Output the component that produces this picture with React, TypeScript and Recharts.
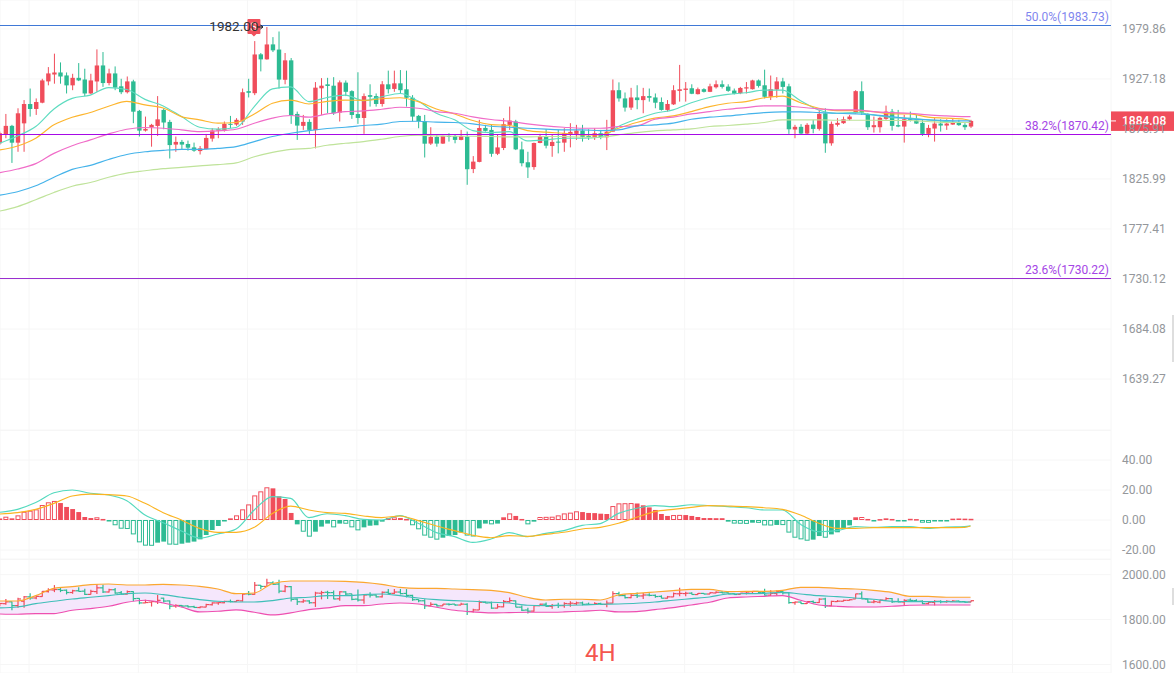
import React from 'react';
import {
  Area,
  Bar,
  CartesianGrid,
  ComposedChart,
  Line,
  ReferenceDot,
  ReferenceLine,
  XAxis,
  YAxis,
} from 'recharts';

const opens = [
  1861.5,1870.9,1879.1,1862.2,1881.8,1901.4,1896.3,1902.7,1924.7,1931.9,
  1934,1930.9,1920.6,1928.4,1926.7,1912.2,1924.7,1941.4,1923,1933,
  1919.6,1913.5,1924.7,1894.3,1874.3,1877.7,1879.1,1895.3,1883.1,1860.2,
  1862.9,1860.8,1857.4,1853.7,1855.7,1866.2,1874.3,1875,1881.1,1880.4,
  1883.5,1914.6,1912.5,1953,1947.7,1963.5,1958.2,1926.4,1946.7,1891.2,
  1879.1,1883.1,1875,1917.6,1921.7,1920.3,1892.6,1923.4,1914.6,1891.2,
  1887.2,1910.5,1909.5,1901.4,1921.7,1916.9,1922.7,1916.6,1907.8,1889.2,
  1883.8,1861.2,1867.9,1861.2,1868.9,1868.9,1864.9,1868.3,1835.8,1842.9,
  1877,1875,1851,1856.8,1880.1,1883.5,1855.4,1842.6,1837.8,1861.8,
  1868.6,1858.8,1863.2,1862.2,1870.3,1871,1874.3,1868.9,1867.6,1871.6,
  1867.6,1873.3,1915.6,1907.1,1897.7,1908.1,1905.4,1909.5,1908.1,1903.4,
  1895.3,1901,1914.9,1915.9,1917.6,1911.5,1916.6,1913.9,1918.6,1921.7,
  1919.3,1915.2,1912.5,1917.3,1916.6,1925.7,1920.7,1908.8,1916.3,1924.7,
  1919.6,1875.4,1878.1,1871.3,1880.4,1876,1891.9,1861.5,1880.1,1881.8,
  1885.8,1891.9,1914.6,1891.2,1877.7,1877.7,1886.2,1893.6,1879.8,1878.4,
  1886.9,1884.5,1882.1,1871,1876.4,1881.4,1879.4,1880.4,1882.5,1880.1,
  1878.4,
];
const highs = [
  1873.3,1891.2,1880.1,1897,1905.4,1917.3,1907.1,1927.4,1939.6,1953.7,
  1944.5,1934,1932.6,1943.8,1937.9,1932.6,1958.2,1955.4,1937.9,1940.3,
  1927.4,1929.8,1926.4,1895.3,1888.5,1881.1,1909.5,1897,1885.2,1868.3,
  1864.9,1864.2,1862.2,1858.8,1870.9,1876.7,1877.7,1883.5,1889.2,1886.9,
  1917.3,1927.4,1967,1954.4,1982,1971.2,1977.2,1954.4,1949.1,1893.6,
  1890.2,1885.8,1924,1928.1,1928.4,1929.1,1925.7,1925.7,1915.5,1934.2,
  1912.2,1921.7,1912.2,1925,1935.9,1935.9,1936.5,1935.9,1910.5,1890.2,
  1890.2,1877.7,1870,1869.2,1871.6,1870,1875,1873.3,1848.7,1885.2,
  1880.1,1880.1,1870,1886.9,1898.7,1885.2,1863.2,1853,1862.2,1871,
  1875.7,1870,1875,1876.7,1881.8,1880.1,1880.1,1875.7,1876.7,1875,
  1885.2,1926.7,1923.7,1913.2,1918,1920.7,1918,1917.3,1912.2,1908.1,
  1905.4,1920.7,1941.9,1924,1921.7,1918.3,1917.6,1922.3,1925.7,1925.7,
  1921.7,1917.3,1919,1924,1926.4,1926.7,1936.9,1930.8,1929.1,1928.4,
  1922.3,1880.1,1880.8,1881.8,1885.2,1895.3,1897,1883.5,1886.9,1888.5,
  1890.2,1915.6,1924.7,1891.9,1888.5,1888.5,1899.7,1896.3,1895.3,1890.2,
  1893.6,1890.2,1885.8,1880.1,1886.9,1885.8,1885.8,1886.9,1885.2,1881.8,
  1885.2,
];
const lows = [
  1859.8,1866.6,1841.9,1853,1853,1888.5,1890.2,1902.1,1920.6,1922.3,
  1922.3,1912.2,1915.6,1925,1909.5,1911.5,1913.9,1919,1920.6,1915.6,
  1911.5,1912.2,1881.8,1868.3,1873.3,1858.1,1868.9,1875.7,1846.3,1853,
  1855.4,1854.1,1853,1850.3,1855.4,1863.2,1866.6,1873.3,1876.7,1879.1,
  1880.1,1908.1,1910.5,1935.1,1947.4,1955.4,1917.3,1921.7,1881.1,1864.9,
  1875,1871,1856.4,1890.2,1891.9,1890.2,1883.5,1909.5,1886.2,1881.1,
  1871,1898.7,1898.7,1898.7,1912.2,1913.9,1912.2,1898.7,1883.5,1876.7,
  1847.3,1859.8,1858.1,1860.8,1863.2,1861.5,1864.5,1820.3,1831.8,1842.5,
  1873.3,1848,1849.7,1854.7,1875,1854.7,1838.5,1827,1835.1,1861.5,
  1856.4,1848,1851.4,1853,1857.4,1864.9,1863.2,1864.9,1864.9,1865.6,
  1854.7,1873,1903.8,1893.6,1895.3,1896,1891.9,1903.8,1897,1894.6,
  1893.6,1900.4,1903.8,1903.8,1911.5,1911.2,1913.2,1913.6,1917.3,1917.3,
  1913.9,1911.2,1911.5,1912.2,1916.3,1918.3,1907.1,1905.4,1907.8,1912.2,
  1871,1866.6,1870,1870,1871.6,1874.3,1852,1859.1,1878.4,1881.1,
  1884.5,1891.5,1890.2,1875,1872.3,1872.3,1885.2,1874.3,1877.7,1862.2,
  1883.5,1881.1,1868.9,1867.6,1863.2,1873.3,1875,1880.1,1879.1,1875,
  1877,
];
const closes = [
  1871.6,1879.1,1862.2,1891.9,1901.4,1896.3,1903.4,1925.7,1933,1934,
  1929.8,1920.6,1928.4,1925.7,1912.2,1925.7,1941.4,1923,1933,1918.3,
  1913.5,1924.7,1893.6,1874.3,1876,1880.1,1885.8,1882.5,1859.8,1862.9,
  1860.2,1857.1,1854.1,1856.4,1866.9,1874.3,1875.7,1881.1,1880.1,1885.2,
  1913.5,1912.9,1953,1947.7,1963.5,1957.2,1926.7,1946.7,1890.2,1879.4,
  1883.1,1875,1918.3,1920.3,1920,1891.9,1923.7,1913.9,1890.2,1887.2,
  1909.5,1908.8,1901.4,1921.7,1916.6,1922.7,1915.6,1907.8,1888.5,1883.8,
  1861.2,1867.9,1861.2,1868.9,1867.9,1864.9,1868.9,1835.8,1843.2,1877,
  1874,1851,1857.4,1880.8,1884.5,1855.4,1841.6,1837.5,1861.8,1868.6,
  1859.1,1862.9,1862.2,1871.6,1873,1874.3,1867.9,1867.6,1871.6,1867.9,
  1873.3,1915.6,1907.1,1897.7,1908.1,1905.4,1909.5,1907.8,1902.7,1895.3,
  1901.4,1915.6,1916.6,1917.3,1911.9,1916.6,1913.9,1919.6,1921.7,1919,
  1914.9,1911.9,1917.9,1918.6,1925.7,1920,1908.8,1916.6,1924.7,1919,
  1875.7,1878.1,1871.3,1880.1,1876,1891.2,1861.5,1881.1,1882.1,1885.8,
  1888.5,1914.6,1892.6,1877.7,1879.8,1887.2,1893.6,1879.1,1878.4,1885.8,
  1885.2,1881.4,1871,1877,1881.4,1879.4,1881.4,1882.5,1879.8,1877.7,
  1884.08,
];
const macdHist = [
  1,2.2,1.1,3.1,5.5,6.2,7.1,10,11.8,12.7,
  11.3,8.7,7.3,5.3,2,1.3,1.8,0.7,-0.7,-3.5,
  -5.8,-6,-9.6,-14.9,-17.1,-17.2,-15.1,-14.4,-16.4,-16.5,
  -15.8,-15.1,-14.4,-12.9,-10,-6.7,-4,-0.9,1.1,3.1,
  7.1,10.4,16.4,19.1,21.8,21.1,15.8,14,4.7,-2.9,
  -7.8,-11.1,-7.8,-4.4,-2.4,-4.9,-2.4,-2.5,-4.9,-6.9,
  -4.9,-3.8,-3.5,-1.1,1.3,1.8,1.3,0.7,-3.5,-6.2,
  -10.4,-11.8,-13.1,-11.8,-10.7,-10,-8.4,-10.4,-11,-5.6,
  -2.4,-2.9,-2.4,1.8,4.4,2.7,0.7,-2.9,-1.1,2,
  2.1,2.2,3.1,4.4,4.9,5.8,5.3,4.7,4.6,4.2,
  4,9.3,11.1,11.2,11.3,11,9.8,8.4,6.7,4,
  2.7,3.3,3.4,3.3,2.7,2,1.3,1.3,1.2,1.2,
  -1.1,-2.4,-2.5,-2.6,-1.8,-1.9,-3.6,-3.7,-3.3,-3.4,
  -8.4,-11.8,-12.9,-13.8,-13.1,-10.7,-11.8,-9.6,-8.2,-5.6,
  -3.6,1.8,2,0.7,-0.6,0.6,1.1,0.7,-0.5,-0.6,
  0.8,0.6,-1.8,-1.9,-0.7,-0.7,-0.9,0.9,1,0.9,
  0.8,
];

// candle numbers the indicator lines were read at
const lineKs = [
  -1,2,5,8,11,14,17,20,23,26,29,32,35,38,41,44,47,50,53,56,59,62,65,68,71,74,77,80,
  83,86,89,92,95,98,101,104,107,110,113,116,119,122,125,128,131,134,137,140,143,146,149,152,155,158,159,
];
const ma5 = [
  1861.5,1868.9,1878.4,1896.3,1907.1,1910.5,1918.3,1916.3,1906.1,1899.4,1888.5,1877.7,1875.7,1877.4,1898.7,1916.9,1919,
  1903.8,1908.1,1910.5,1904.8,1908.8,1912.2,1904.4,1891.9,1885.2,1874.3,1872.3,1873.3,1863.9,1864.9,1866.6,1866.6,1867.6,1878.4,
  1885.8,1891.9,1895.3,1902.7,1908.1,1911.2,1912.9,1915.6,1915.6,1904.8,1895.3,1891.9,1892.6,1890.2,1887.5,1886.9,1885.2,1883.5,1882.5,1882.5,
];
const ma10 = [
  1854.7,1858.8,1866.6,1880.1,1887.9,1892.6,1899,1904.1,1900.4,1897.3,1888.5,1885.2,1881.8,1882.5,1891.2,1902.1,1905.4,
  1901.4,1904.1,1905.4,1905.1,1906.8,1907.8,1903.8,1896.3,1891.2,1884.5,1880.4,1879.4,1874.3,1872.7,1871.6,1870,1870,1876.7,
  1882.5,1886.9,1889.2,1893.6,1898.7,1902.1,1903.8,1907.8,1909.5,1902.7,1897,1894.6,1894.6,1893.6,1891.2,1891.2,1887.9,1886.9,1885.8,1884.5,
];
const ma20 = [
  1832.1,1835.8,1841.2,1851.4,1859.1,1864.9,1871,1875.7,1877.4,1876.7,1875,1873.3,1874,1875.7,1881.8,1886.9,1889.6,
  1887.9,1891.2,1893.6,1894.3,1896,1898,1897,1893.6,1891.9,1888.2,1885.5,1883.8,1881.1,1879.1,1877.7,1876.7,1876.7,1878.4,
  1879.1,1885.8,1887.9,1891.2,1893.6,1896,1897.7,1899.4,1899.4,1898,1896.3,1895.3,1895.3,1893.6,1892.6,1891.9,1890.2,1889.2,1888.5,1888.5,
];
const ma40 = [
  1810.1,1813.5,1819.3,1827.7,1835.5,1839.5,1845.3,1850.3,1853,1854.4,1855.4,1855.4,1856.4,1858.1,1863.2,1868.3,1871.6,
  1874.3,1876.4,1877.7,1879.4,1880.8,1883.5,1883.8,1882.8,1882.5,1881.1,1878.7,1877.7,1876.7,1875.7,1875,1875,1874.3,1875,
  1879.1,1880.1,1881.8,1885.8,1887.9,1889.2,1890.9,1892.6,1893.3,1893.3,1892.6,1891.9,1891.2,1890.2,1888.5,1886.2,1885.2,1884.5,1884.1,1884.1,
];
const ma60 = [
  1794.6,1799,1805.7,1812.8,1818.9,1822.6,1827.7,1831.8,1834.1,1836.2,1837.5,1838.9,1840.2,1841.9,1848,1852.4,1855.4,
  1856.4,1859.5,1861.5,1863.2,1865.6,1868.3,1869.6,1868.9,1868.6,1868.6,1868.3,1867.9,1867.9,1868.3,1868.3,1867.6,1867.6,1870,
  1872.3,1874,1875,1876,1878.4,1879.4,1880.8,1882.5,1885.2,1885.2,1885.2,1884.8,1884.8,1884.8,1884.5,1884.5,1883.5,1882.5,1882.5,1882.5,
];
const dif = [
  5.1,7.1,11.6,18.2,20,17.8,16.7,12.9,3.3,-1.8,-7.3,-12,-9.3,-6,6.7,15.6,14.4,1.6,4.2,2.9,0.4,0,
  2.9,-2.2,-8.4,-11.1,-14.9,-12.7,-8.4,-11.1,-8.9,-7.1,-3.6,-2.4,4.4,7.8,9.6,8.9,10.2,
  9.6,8.9,8.2,6.7,6.7,-2.9,-7.8,-7.1,-4.4,-4.9,-4.4,-4.4,-5.6,-4.7,-4.4,-3.8,
];
const dea = [
  4,4.9,7.1,11.1,16,17.3,16.9,16,11.1,4.9,0,-5.6,-8.2,-8.2,-4.9,4.4,9.3,6.7,4.9,4.4,2.7,1.6,
  2.7,-0.4,-4,-7.1,-10.2,-11.8,-10.4,-10.9,-9.6,-8.2,-6,-4.9,-2.2,1.8,5.6,7.1,8.4,
  9.6,9.3,8.9,8.2,7.1,3.3,-2.2,-5.6,-5.6,-5.1,-5.1,-5.1,-5.1,-5.1,-4.9,-4,
];
const bollUpper = [
  1883,1883,1906.7,1939.3,1946.7,1955.6,1958.5,1954.1,1954.1,1957,1954.1,1948.2,1936.3,1915.6,1918.5,1960,1971.8,1971.8,1971.8,1970.4,1965.9,1957,1943.7,1939.3,1939.3,1936.3,1933.3,1930.4,
  1920,1899.3,1887.4,1890.4,1890.4,1887.4,1909.6,1917,1923,1928.9,1934.8,1934.8,1924.5,1926,1926,1930.4,1943.7,1943.7,1939.3,1936.3,1930.4,1921.5,1903.7,1903.7,1899.3,1899.3,1899.3,
];
const bollMid = [
  1851.9,1856.3,1871.1,1881.5,1891.9,1899.3,1906.7,1915.6,1918.5,1911.1,1899.3,1888.9,1881.5,1878.5,1878.5,1884.5,1896.3,1899.3,1906.7,1906.7,1911.1,1914.1,1906.7,1896.3,1888.9,1884.5,1881.5,1877.1,
  1874.1,1863.7,1862.3,1863.7,1865.2,1868.2,1869.6,1872.6,1878.5,1886,1893.4,1900.8,1914.1,1915.6,1917,1921.5,1914.1,1906.7,1902.2,1896.3,1890.4,1881.5,1880,1880,1880,1878.5,1878.5,
];
const bollLower = [
  1825.2,1823.7,1826.7,1826.7,1841.5,1848.9,1859.3,1877.1,1886,1874.1,1856.3,1834.1,1837,1843,1832.6,1820.8,1829.7,1844.5,1851.9,1862.3,1862.3,1869.6,1874.1,1869.6,1854.8,1841.5,1834.1,1829.7,
  1831.1,1832.6,1832.6,1834.1,1837,1841.5,1834.1,1835.6,1844.5,1853.4,1865.2,1877.1,1896.3,1900.8,1903.7,1906.7,1886,1865.2,1859.3,1856.3,1856.3,1859.3,1863.7,1865.2,1865.2,1865.2,1865.2,
];

const mainTicks = [1979.86, 1927.18, 1875.91, 1825.99, 1777.41, 1730.12, 1684.08, 1639.27];
const macdTicks = [40, 20, 0, -20];
const bollTicks = [2000, 1800, 1600];
const gridKs = [3.9, 21.9, 39.9, 57.9, 75.9, 93.9, 111.9, 129.9, 147.9, 165.9];

const RED = '#f04d5b';
const GREEN = '#2dbb93';
const WIDTH = 1174;
const AXIS_W = 63;
const X_DOMAIN = [-0.89, 182.14];

const candles = opens.map((open, i) => ({
  k: i - 1,
  open,
  high: highs[i],
  low: lows[i],
  close: closes[i],
  range: [lows[i], highs[i]],
  hist: macdHist[i],
  prevHist: i > 0 ? macdHist[i - 1] : 0,
}));
const lineRows = lineKs.map((k, i) => ({
  k,
  ma5: ma5[i],
  ma10: ma10[i],
  ma20: ma20[i],
  ma40: ma40[i],
  ma60: ma60[i],
  dif: dif[i],
  dea: dea[i],
  upper: bollUpper[i],
  mid: bollMid[i],
  lower: bollLower[i],
  band: [bollLower[i], bollUpper[i]],
}));

const Candle = (props: any) => {
  const { x, y, width, height, payload } = props;
  const { open, close, high, low } = payload;
  const color = close >= open ? RED : GREEN;
  const cx = x + width / 2;
  const perUnit = height / (high - low);
  const top = y + (high - Math.max(open, close)) * perUnit;
  const bodyH = Math.max(Math.abs(close - open) * perUnit, 1);
  return (
    <g>
      <rect x={cx - 0.5} y={y} width={1} height={height} fill={color} />
      <rect x={cx - 2.2} y={top} width={4.4} height={bodyH} fill={color} />
    </g>
  );
};

const OhlcBar = (props: any) => {
  const { x, y, width, height, payload } = props;
  const { open, close, high, low } = payload;
  const color = close >= open ? RED : GREEN;
  const cx = x + width / 2;
  const perUnit = height / (high - low);
  const yOpen = y + (high - open) * perUnit;
  const yClose = y + (high - close) * perUnit;
  return (
    <g stroke={color} strokeWidth={1.2}>
      <line x1={cx} x2={cx} y1={y} y2={y + height} />
      <line x1={cx - 3} x2={cx} y1={yOpen} y2={yOpen} />
      <line x1={cx} x2={cx + 3} y1={yClose} y2={yClose} />
    </g>
  );
};

const HistBar = (props: any) => {
  const { x, y, width, height, payload } = props;
  const { hist, prevHist } = payload;
  const color = hist >= 0 ? RED : GREEN;
  const cx = x + width / 2;
  const top = height < 0 ? y + height : y;
  const h = Math.max(Math.abs(height), 1.5);
  const hollow = Math.abs(hist) >= 1.5 && Math.abs(hist) > Math.abs(prevHist);
  if (hollow) {
    return <rect x={cx - 2} y={top + 0.5} width={4} height={h - 1} fill="none" stroke={color} strokeWidth={1} />;
  }
  return <rect x={cx - 2.4} y={top} width={4.8} height={h} fill={color} />;
};

// sell pin with the swing high text and its arrow
const HighMark = (props: any) => {
  const { cx, cy } = props;
  return (
    <g>
      <path
        d={`M${cx - 18} ${cy - 8} h11 a1 1 0 0 1 1 1 v13 a1 1 0 0 1 -1 1 h-3 l-2.5 2.5 l-2.5 -2.5 h-3 a1 1 0 0 1 -1 -1 v-13 a1 1 0 0 1 1 -1 z`}
        fill="#f0505c"
      />
      <text x={cx - 12.5} y={cy + 4} fontSize={12} fill="#fff" textAnchor="middle">S</text>
      <text x={cx - 8} y={cy + 4} fontSize={13.5} fill="#333" textAnchor="end">1982.00</text>
      <path d={`M${cx - 9} ${cy} h5.5 M${cx - 6} ${cy - 2} l2.5 2 l-2.5 2`} fill="none" stroke="#111" strokeWidth={1} />
    </g>
  );
};

const PriceTag = (props: any) => {
  const { cx, cy } = props;
  return (
    <g>
      <rect x={cx} y={cy - 9.5} width={63} height={19.5} fill={RED} />
      <rect x={cx} y={cy - 0.5} width={5} height={1} fill="#fff" />
      <text x={cx + 11} y={cy + 4.5} fontSize={12} fontWeight={500} fill="#fff">1884.08</text>
    </g>
  );
};

const tickStyle = { fontSize: 12, fill: '#94979b' };
const GRID = '#f6f6f6';

const fibLine = (value: number, text: string, stroke: string, fill: string) => (
  <ReferenceLine
    y={value}
    stroke={stroke}
    strokeWidth={1}
    shapeRendering="crispEdges"
    label={(p: any) => (
      <text x={p.viewBox.x + p.viewBox.width - 2} y={p.viewBox.y - 4.5} fontSize={12} fill={fill} textAnchor="end">
        {text}
      </text>
    )}
  />
);

const indicator = (key: string, color: string) => (
  <Line
    data={lineRows}
    dataKey={key}
    type="monotone"
    stroke={color}
    strokeWidth={1.15}
    dot={false}
    activeDot={false}
    isAnimationActive={false}
  />
);

const priceAxis = (domain: number[], ticks: number[], extra: any = {}) => (
  <YAxis
    orientation="right"
    width={AXIS_W}
    domain={domain}
    ticks={ticks}
    allowDataOverflow
    interval={0}
    tick={tickStyle}
    tickFormatter={(v: number) => v.toFixed(2)}
    tickLine={false}
    axisLine={false}
    tickSize={0}
    tickMargin={11}
    {...extra}
  />
);

export default function App() {
  const commonChart = { width: WIDTH, margin: { top: 0, right: 0, bottom: 0, left: 0 } };
  const xAxis = <XAxis dataKey="k" type="number" domain={X_DOMAIN} ticks={gridKs} hide allowDataOverflow />;
  const pane = (top: number): React.CSSProperties => ({ position: 'absolute', left: 0, top });
  return (
    <div
      style={{
        position: 'absolute',
        left: 0,
        top: 0,
        width: WIDTH,
        height: 673,
        overflow: 'hidden',
        background: '#fff',
        fontFamily: 'Roboto, sans-serif',
      }}
    >
      <div style={pane(0)}>
        <ComposedChart {...commonChart} height={430} data={candles}>
          {xAxis}
          {priceAxis([1594.8, 2011.06], mainTicks, { scale: 'log' })}
          <CartesianGrid stroke={GRID} />
          <Bar dataKey="range" barSize={5} shape={Candle} isAnimationActive={false} />
          {indicator('ma5', '#5edcc0')}
          {indicator('ma10', '#fdb52e')}
          {indicator('ma20', '#f06cc8')}
          {indicator('ma40', '#45b3ea')}
          {indicator('ma60', '#bfe39a')}
          {fibLine(1983.73, '50.0%(1983.73)', '#3f78d6', '#7f86ee')}
          {fibLine(1870.42, '38.2%(1870.42)', '#a60ae6', '#a545e6')}
          {fibLine(1730.22, '23.6%(1730.22)', '#9a2fd0', '#a545e6')}
          <ReferenceDot x={43} y={1982} r={0} shape={HighMark} ifOverflow="visible" />
          <ReferenceDot x={182.14} y={1884.08} r={0} shape={PriceTag} ifOverflow="visible" />
        </ComposedChart>
      </div>

      <div style={pane(430)}>
        <ComposedChart {...commonChart} height={129} data={candles}>
          {xAxis}
          {priceAxis([-26, 60], macdTicks)}
          <CartesianGrid stroke={GRID} />
          <Bar dataKey="hist" barSize={5} shape={HistBar} isAnimationActive={false} />
          {indicator('dif', '#53d9be')}
          {indicator('dea', '#fbb421')}
        </ComposedChart>
      </div>

      <div style={pane(559)}>
        <ComposedChart {...commonChart} height={114} data={candles}>
          {xAxis}
          {priceAxis([1562.1, 2069.9], bollTicks)}
          <CartesianGrid stroke={GRID} />
          <Area
            data={lineRows}
            dataKey="band"
            type="monotone"
            stroke="none"
            fill="#f5e7fc"
            fillOpacity={1}
            activeDot={false}
            isAnimationActive={false}
          />
          {indicator('upper', '#fba730')}
          {indicator('mid', '#3fbfb8')}
          {indicator('lower', '#ee4fb0')}
          <Bar dataKey="range" barSize={5} shape={OhlcBar} isAnimationActive={false} />
        </ComposedChart>
      </div>

      <div style={{ position: 'absolute', left: 0, top: 430, width: 1111, height: 1, background: GRID }} />
      <div style={{ position: 'absolute', left: 0, top: 559, width: 1111, height: 1, background: GRID }} />
      <div style={{ position: 'absolute', left: 1172, top: 315, width: 2, height: 47, background: '#dedede' }} />
      <div style={{ position: 'absolute', left: 1172, top: 588, width: 2, height: 17, background: '#dedede' }} />
      <div style={{ position: 'absolute', left: 585, top: 638, fontSize: 24, lineHeight: '30px', color: '#f4564f' }}>4H</div>
    </div>
  );
}
